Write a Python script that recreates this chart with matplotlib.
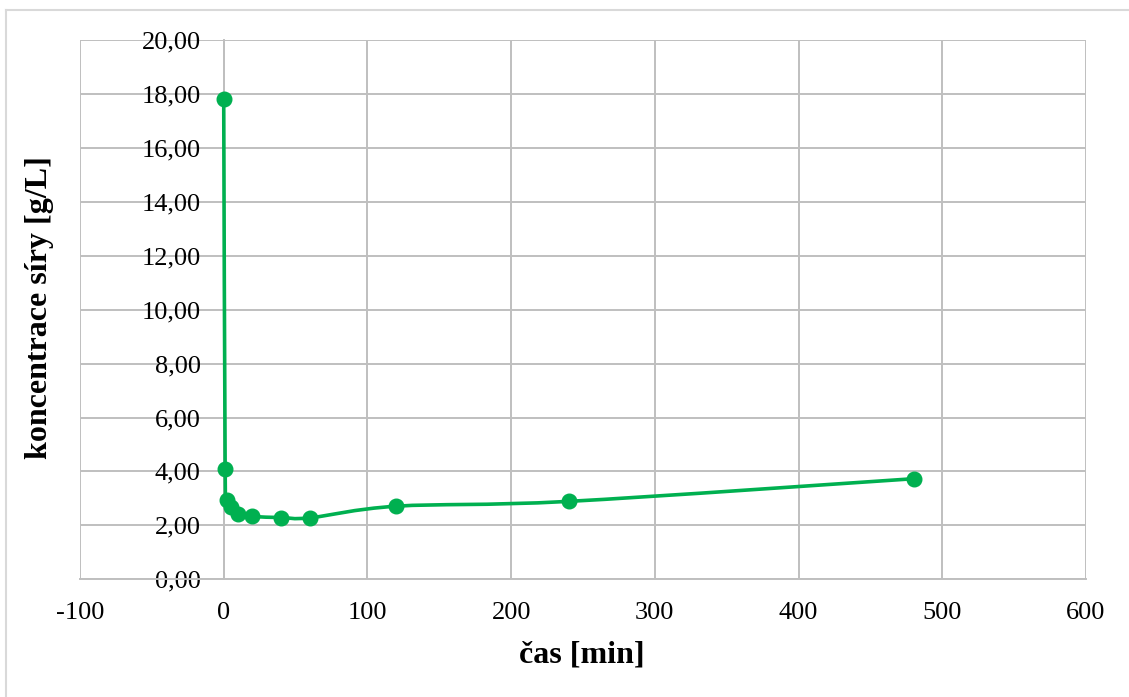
import numpy as np
import matplotlib.pyplot as plt
from matplotlib.path import Path
from matplotlib.patches import PathPatch
from matplotlib.lines import Line2D

# data
cas = [0, 1, 2, 5, 10, 20, 40, 60, 120, 240, 480]
koncentrace = [17.8, 4.1, 2.95, 2.67, 2.41, 2.33, 2.29, 2.28, 2.71, 2.89, 3.73]

x_ticks = [-100, 0, 100, 200, 300, 400, 500, 600]
y_ticks = [0, 2, 4, 6, 8, 10, 12, 14, 16, 18, 20]

zelena = "#00B050"
mrizka = "#BFBFBF"

plt.rcParams["font.family"] = ["Liberation Serif", "DejaVu Serif"]

fig = plt.figure(figsize=(11.29, 6.97), dpi=100)
ax = fig.add_axes([80 / 1129, 1 - 579.3 / 697, (1086 - 80) / 1129, (579.3 - 40) / 697])


def hladka_cesta(xs, ys):
    # Excel-like smoothed line: cubic Bezier segments (Catmull-Rom tangents)
    p = np.column_stack([xs, ys]).astype(float)
    n = len(p)
    verts = [p[0]]
    codes = [Path.MOVETO]
    for i in range(n - 1):
        p0 = p[i - 1] if i > 0 else p[i]
        p1 = p[i]
        p2 = p[i + 1]
        p3 = p[i + 2] if i + 2 < n else p[i + 1]
        c1 = p1 + (p2 - p0) / 6
        c2 = p2 - (p3 - p1) / 6
        verts += [c1, c2, p2]
        codes += [Path.CURVE4] * 3
    return Path(verts, codes)


ax.add_patch(PathPatch(hladka_cesta(cas, koncentrace), facecolor="none",
                       edgecolor=zelena, linewidth=2.6, capstyle="round",
                       joinstyle="round", zorder=3))
ax.plot(cas, koncentrace, linestyle="none", marker="o", markersize=10.5,
        color=zelena, zorder=4, clip_on=False)

ax.set_xlim(-100, 600)
ax.set_ylim(0, 20)
ax.set_xticks(x_ticks)
ax.set_yticks(y_ticks)
ax.set_xticklabels([str(v) for v in x_ticks])
ax.set_yticklabels([f"{v:.2f}".replace(".", ",") for v in y_ticks])

ax.grid(True, color=mrizka, linewidth=1.4)
ax.set_axisbelow(True)
for s in ["top", "right"]:
    ax.spines[s].set_visible(False)
ax.spines["left"].set_position(("data", 0))
ax.spines["left"].set_color(mrizka)
ax.spines["bottom"].set_color(mrizka)
ax.spines["left"].set_linewidth(1.4)
ax.spines["bottom"].set_linewidth(1.4)
ax.tick_params(axis="both", length=0, labelsize=19, colors="black")
ax.tick_params(axis="y", pad=16.5)
ax.tick_params(axis="x", pad=16)

fig.text(582 / 1129, 1 - 655 / 697, "čas [min]", ha="center", va="center",
         fontsize=23, fontweight="bold")
fig.text(40 / 1129, 1 - 308 / 697, "koncentrace síry [g/L]", ha="center",
         va="center", rotation=90, fontsize=23, fontweight="bold")

# light frame around the chart
fig.add_artist(Line2D([6 / 1129, 1], [1 - 10 / 697, 1 - 10 / 697],
                      color="#D9D9D9", linewidth=1.5))
fig.add_artist(Line2D([6 / 1129, 6 / 1129], [0, 1 - 10 / 697],
                      color="#D9D9D9", linewidth=1.5))

fig.savefig("out.png", dpi=100)
